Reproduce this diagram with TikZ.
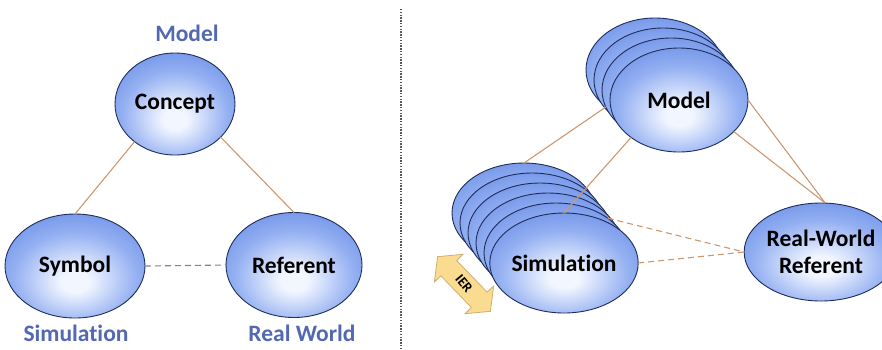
\documentclass[tikz,border=0pt]{standalone}
\usepackage{fontspec}
\setmainfont[Ligatures=NoCommon]{Carlito}
\usetikzlibrary{shapes.geometric}
\definecolor{ballcenter}{RGB}{242,246,255}
\definecolor{ballmid}{RGB}{148,176,242}
\definecolor{balledge}{RGB}{76,116,222}
\definecolor{ballline}{RGB}{30,45,90}
\definecolor{labelblue}{RGB}{82,104,176}
\definecolor{tanline}{RGB}{205,152,112}
\definecolor{grayline}{RGB}{130,130,130}
\definecolor{ierfill}{RGB}{250,220,145}
\definecolor{ierline}{RGB}{205,175,115}
\pgfdeclareradialshading{ellshade}{\pgfpoint{0bp}{-8bp}}{color(0bp)=(ballcenter); color(5bp)=(ballcenter); color(22bp)=(ballmid); color(44bp)=(balledge); color(80bp)=(balledge)}
\tikzset{
  ball/.style={ellipse, draw=ballline, line width=0.9pt, shade, shading=ellshade, inner sep=0pt, outer sep=0pt, font=\fontsize{23.5}{27}\selectfont\bfseries, text=black, align=center},
  lbl/.style={font=\fontsize{23.5}{27}\selectfont\bfseries, text=labelblue, inner sep=0pt},
  conn/.style={draw=tanline, line width=1.1pt},
  dconn/.style={draw=tanline, line width=1.1pt, dash pattern=on 6pt off 4pt},
  gconn/.style={draw=grayline, line width=1.1pt, dash pattern=on 6pt off 4pt},
}
\begin{document}
\begin{tikzpicture}[x=1pt,y=-1pt]
\useasboundingbox (0,0) rectangle (882,349);
% ---------- left panel ----------
\node[ball, minimum width=120pt, minimum height=102pt] (concept) at (175,104) {Concept};
\node[ball, minimum width=140pt, minimum height=104pt] (symbol) at (75,266) {Symbol};
\node[ball, minimum width=136pt, minimum height=105pt] (referent) at (294,265) {Referent};
\node[lbl] (lmodel) at (187,33) {Model};
\node[lbl] (lsim) at (76,333) {Simulation};
\node[lbl] (lreal) at (302,333) {Real World};
\draw[conn] (concept.223) -- (symbol.north);
\draw[conn] (concept.324) -- (referent.north);
\draw[gconn] (symbol.east) -- (referent.west);
% divider
\coordinate (dtop) at (401,9);
\coordinate (dbot) at (401,349);
\draw[draw=black!65, line width=1.2pt, dash pattern=on 1.4pt off 1.4pt] (dtop) -- (dbot);
% ---------- right panel ----------
% model stack
\node[ball, minimum width=138pt, minimum height=104pt] (mb3) at (655,70) {};
\node[ball, minimum width=138pt, minimum height=104pt] (mb2) at (663,80) {};
\node[ball, minimum width=138pt, minimum height=104pt] (mb1) at (671,90) {};
\node[ball, minimum width=138pt, minimum height=104pt] (model) at (679,100) {Model};
% simulation stack
\node[ball, minimum width=144pt, minimum height=100pt] (sb5) at (524,213) {};
\node[ball, minimum width=144pt, minimum height=100pt] (sb4) at (532,223) {};
\node[ball, minimum width=144pt, minimum height=100pt] (sb3) at (540,233) {};
\node[ball, minimum width=144pt, minimum height=100pt] (sb2) at (548,243) {};
\node[ball, minimum width=144pt, minimum height=100pt] (sb1) at (556,253) {};
\node[ball, minimum width=144pt, minimum height=100pt] (sim) at (564,263) {Simulation};
% real-world referent
\node[ball, minimum width=124pt, minimum height=98pt] (rw) at (821,252) {Real-World\\Referent};
% connectors
\draw[conn] (mb3.217) -- (sb5.north);
\draw[conn] (model.218) -- (sim.north);
\draw[conn] (model.east) -- (rw.85);
\draw[conn] (model.330) -- (rw.85);
\draw[dconn] (sb1.34) -- (rw.west);
\draw[dconn] (sim.east) -- (rw.west);
% IER arrow
\begin{scope}[shift={(464,284)}, rotate=-46]
\draw[draw=ierline, fill=ierfill, line width=0.8pt, line join=miter]
  (-38,0) -- (-22,20) -- (-22,11) -- (22,11) -- (22,20) -- (38,0)
  -- (22,-20) -- (22,-11) -- (-22,-11) -- (-22,-20) -- cycle;
\end{scope}
\node[rotate=-50, inner sep=0pt, font=\fontsize{14}{14}\selectfont\bfseries] (ier) at (464,284) {IER};
\end{tikzpicture}
\end{document}
